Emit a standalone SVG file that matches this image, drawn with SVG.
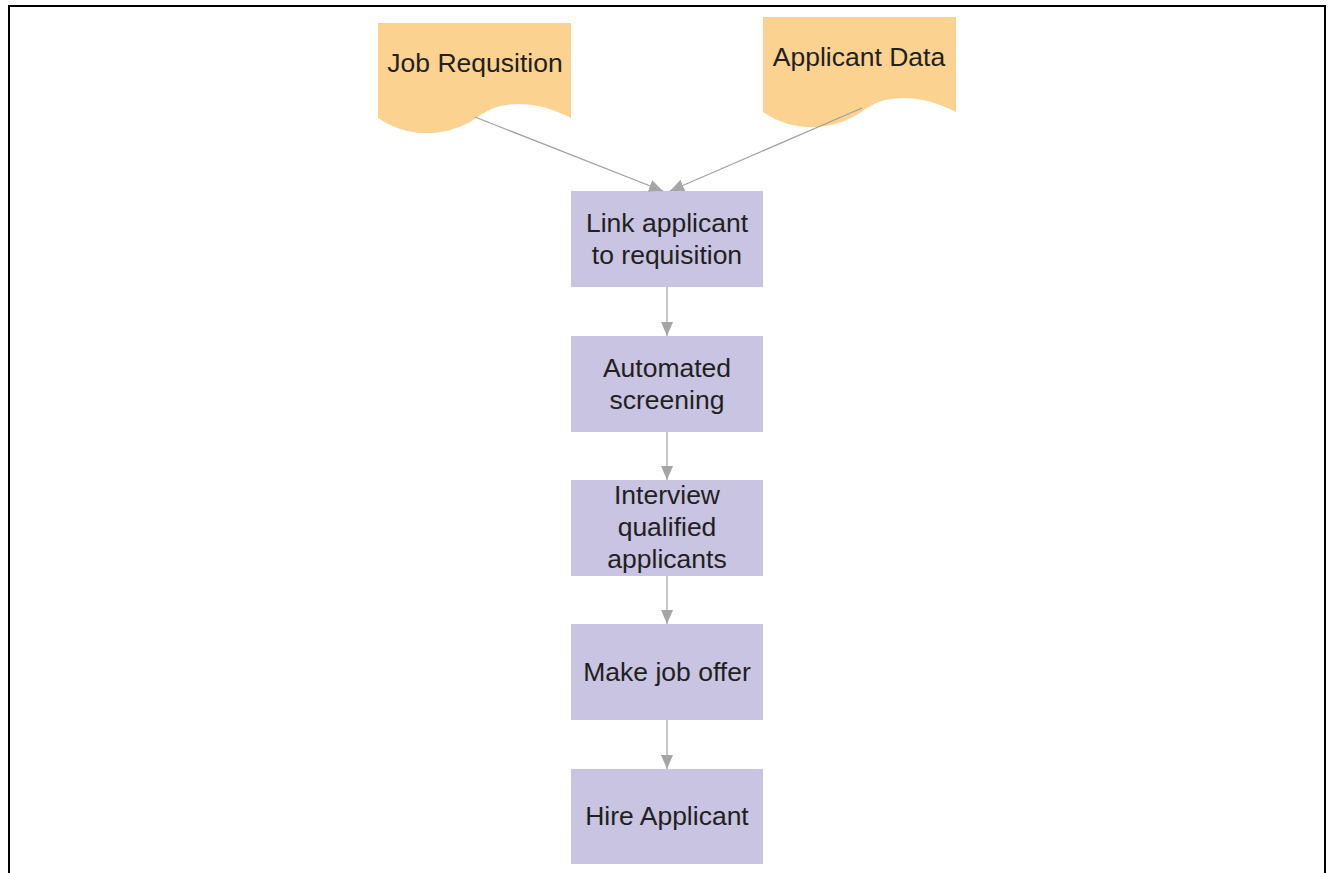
<svg xmlns="http://www.w3.org/2000/svg" width="1328" height="873" viewBox="0 0 1328 873">
  <style>
    .frame { fill: none; stroke: #000; stroke-width: 2; }
    .doc { fill: #fbd28f; stroke: none; }
    .step { fill: #c8c4e2; stroke: none; }
    .label { font-family: "Liberation Sans", Arial, sans-serif; font-size: 26.5px; fill: #231f20; text-anchor: middle; }
    .edge { fill: none; stroke: #a0a0a0; stroke-width: 1.2; }
  </style>
  <defs>
    <marker id="arrow" viewBox="0 0 14 12" refX="14" refY="6" markerWidth="14" markerHeight="12" markerUnits="userSpaceOnUse" orient="auto">
      <path d="M0,0 L14,6 L0,12 Z" fill="#a5a5a5"/>
    </marker>
    <!-- document symbol: flat top, wavy bottom edge -->
    <path id="docShape" d="M0,0 H193 V95 C168,82 145,78 122,83 C108,87 102,93 92,99 C62,115 28,114 0,95 Z"/>
  </defs>

  <rect width="1328" height="873" fill="#fff"/>
  <path class="frame" d="M9,880 V6 H1325 V880"/>

  <g id="job-requisition">
    <use href="#docShape" class="doc" x="378" y="23"/>
    <text class="label" x="475" y="72">Job Requsition</text>
  </g>

  <g id="applicant-data">
    <use href="#docShape" class="doc" x="763" y="17"/>
    <text class="label" x="859" y="66">Applicant Data</text>
  </g>

  <g id="link-applicant">
    <rect class="step" x="571" y="191" width="192" height="96"/>
    <text class="label" x="667" y="232">Link applicant</text>
    <text class="label" x="667" y="264">to requisition</text>
  </g>

  <g id="automated-screening">
    <rect class="step" x="571" y="336" width="192" height="96"/>
    <text class="label" x="667" y="377">Automated</text>
    <text class="label" x="667" y="409">screening</text>
  </g>

  <g id="interview">
    <rect class="step" x="571" y="480" width="192" height="96"/>
    <text class="label" x="667" y="504">Interview</text>
    <text class="label" x="667" y="536">qualified</text>
    <text class="label" x="667" y="568">applicants</text>
  </g>

  <g id="job-offer">
    <rect class="step" x="571" y="624" width="192" height="96"/>
    <text class="label" x="667" y="681">Make job offer</text>
  </g>

  <g id="hire-applicant">
    <rect class="step" x="571" y="769" width="192" height="95"/>
    <text class="label" x="667" y="825">Hire Applicant</text>
  </g>

  <g id="connectors">
    <line class="edge" x1="475" y1="117" x2="663" y2="191" marker-end="url(#arrow)"/>
    <line class="edge" x1="862" y1="108" x2="670" y2="191" marker-end="url(#arrow)"/>
    <line class="edge" x1="667" y1="287" x2="667" y2="336" marker-end="url(#arrow)"/>
    <line class="edge" x1="667" y1="432" x2="667" y2="480" marker-end="url(#arrow)"/>
    <line class="edge" x1="667" y1="576" x2="667" y2="624" marker-end="url(#arrow)"/>
    <line class="edge" x1="667" y1="720" x2="667" y2="769" marker-end="url(#arrow)"/>
  </g>
</svg>
